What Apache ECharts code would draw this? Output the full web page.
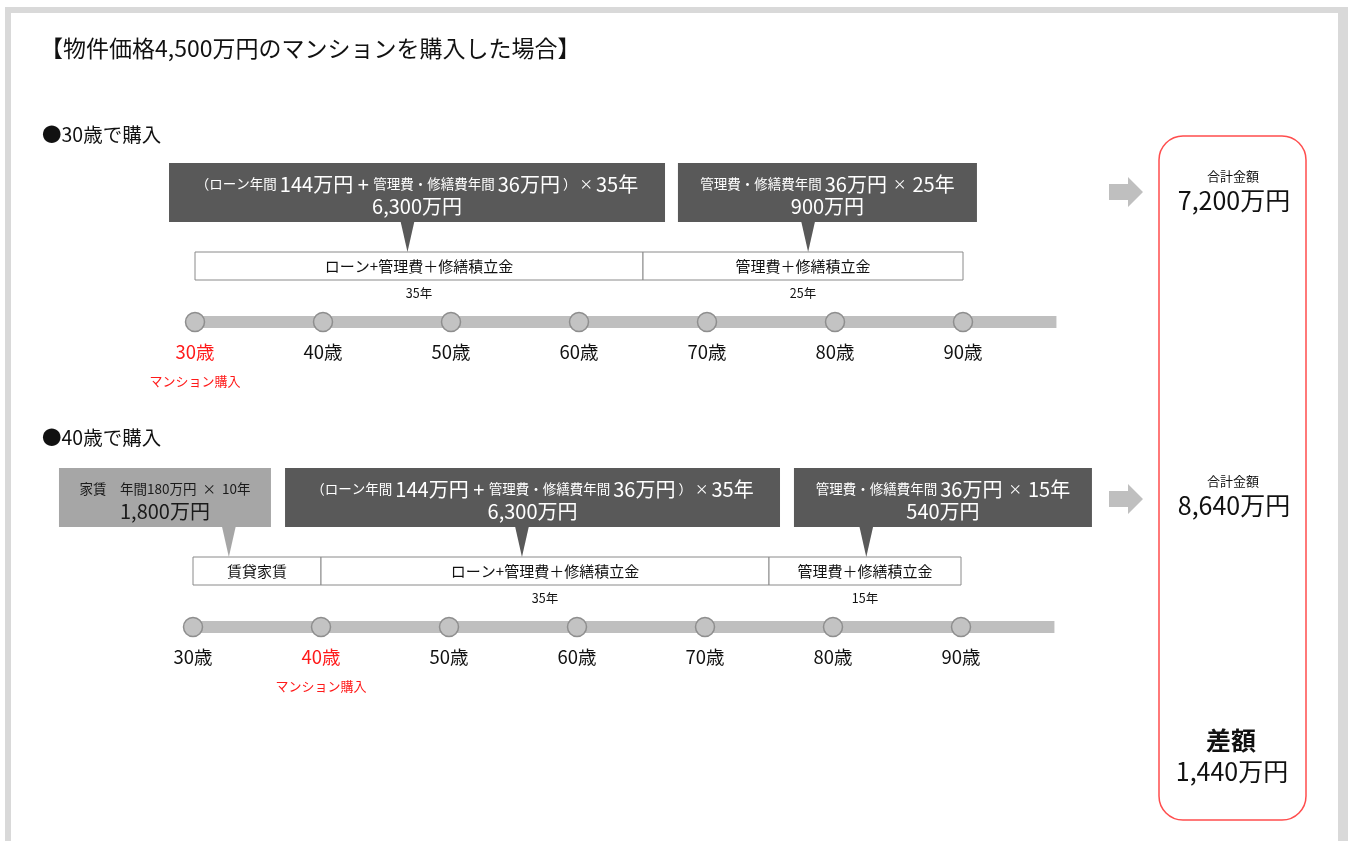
<!DOCTYPE html>
<html><head><meta charset="utf-8">
<script src="https://cdn.jsdelivr.net/npm/echarts@6/dist/echarts.min.js"></script>
<style>html,body{margin:0;padding:0;background:#fff}#c{width:1348px;height:841px}</style>
</head><body><div id="c"></div>
<script>
// ---------- data ----------
const title = '【物件価格4,500万円のマンションを購入した場合】';
const scenarioTitles = ['●30歳で購入', '●40歳で購入'];
const ageTicks = [30, 40, 50, 60, 70, 80, 90];
const purchaseAges = [30, 40];
const purchaseLabel = 'マンション購入';
// segments: [startAge, endAge, label, duration]
const segments1 = [[30, 65, 'ローン+管理費＋修繕積立金', '35年'], [65, 90, '管理費＋修繕積立金', '25年']];
const segments2 = [[30, 40, '賃貸家賃', ''], [40, 75, 'ローン+管理費＋修繕積立金', '35年'], [75, 90, '管理費＋修繕積立金', '15年']];
// callout contents
const callouts1 = [
  {kind: 'loan', loan: 144, mgmt: 36, years: 35, total: 6300},
  {kind: 'mgmt', mgmt: 36, years: 25, total: 900}
];
const callouts2 = [
  {kind: 'rent', rent: 180, years: 10, total: 1800},
  {kind: 'loan', loan: 144, mgmt: 36, years: 35, total: 6300},
  {kind: 'mgmt', mgmt: 36, years: 15, total: 540}
];
const totals = [7200, 8640];
const totalLabel = '合計金額';
const diffLabel = '差額';
const diffValue = 1440;

// ---------- layout (ages on the timeline scale) ----------
const calloutLayout1 = [[27.97, 66.72, 46.6], [67.73, 91.09, 77.9]];
const calloutLayout2 = [[19.53, 36.09, 32.8], [37.19, 75.86, 55.7], [76.95, 100.23, 82.6]];
const T = [322, 627];           // timeline pixel rows
const gridLeft = [195, 193];
const PX_PER_YEAR = 12.8;
const AXIS_MAX = 97.3;

const FONT = '"Noto Sans CJK JP", "Noto Sans", sans-serif';
const DARK = '#595959', LIGHT = '#a6a6a6', RED = '#ff1a1a';
const fmt = n => n.toLocaleString('en-US');

function calloutText(c) {
  if (c.kind === 'loan') {
    return `{s|（ローン年間 }{b|${c.loan}万円}{b| + }{s|管理費・修繕費年間 }{b|${c.mgmt}万円}{s| ） × }{b|${c.years}年}\n{b|${fmt(c.total)}万円}`;
  } else if (c.kind === 'mgmt') {
    return `{s|管理費・修繕費年間 }{b|${c.mgmt}万円}{s|  ×  }{b|${c.years}年}\n{b|${fmt(c.total)}万円}`;
  }
  return `{s|家賃　年間${c.rent}万円  ×  ${c.years}年}\n{b|${fmt(c.total)}万円}`;
}

const chart = echarts.init(document.getElementById('c'), null, {renderer: 'canvas'});

const grids = [], xAxes = [], yAxes = [], series = [];
[0, 1].forEach(i => {
  const width = (AXIS_MAX - 30) * PX_PER_YEAR;
  grids.push({left: gridLeft[i], top: T[i] - 22, width: width, height: 22});
  const pa = purchaseAges[i];
  xAxes.push({
    type: 'value', gridIndex: i, min: 30, max: AXIS_MAX, interval: 10,
    axisLine: {show: false}, axisTick: {show: false}, splitLine: {show: false},
    axisLabel: {
      margin: 20,
      showMaxLabel: false,
      formatter: v => {
        if (ageTicks.indexOf(v) < 0) return '';
        return v === pa ? `{r|${v}歳}\n{rs|${purchaseLabel}}` : `{n|${v}歳}`;
      },
      rich: {
        n: {fontSize: 18.5, lineHeight: 20, color: '#111', fontFamily: FONT},
        r: {fontSize: 18.5, lineHeight: 20, color: RED, fontFamily: FONT},
        rs: {fontSize: 13, lineHeight: 38, color: RED, fontFamily: FONT}
      }
    }
  });
  yAxes.push({type: 'value', gridIndex: i, min: 0, max: 1, show: false});

  // timeline bar
  series.push({
    type: 'line', xAxisIndex: i, yAxisIndex: i, data: [[30, 0], [AXIS_MAX, 0]],
    symbol: 'none', lineStyle: {width: 12, color: '#bfbfbf', cap: 'butt'}, silent: true, z: 1
  });
  // age circles
  series.push({
    type: 'scatter', xAxisIndex: i, yAxisIndex: i, data: ageTicks.map(a => [a, 0]),
    symbolSize: 19, itemStyle: {color: '#c3c3c3', borderColor: '#8e8e8e', borderWidth: 1.5, opacity: 1},
    silent: true, z: 3
  });

  // segment boxes
  const segs = i === 0 ? segments1 : segments2;
  series.push({
    type: 'custom', xAxisIndex: i, yAxisIndex: i, clip: false, silent: true, z: 4,
    data: segs.map(s => [s[0], s[1], 0]),
    encode: {x: [0, 1], y: 2},
    renderItem: (params, api) => {
      const s = segs[params.dataIndex];
      const p0 = api.coord([api.value(0), 0]);
      const p1 = api.coord([api.value(1), 0]);
      const base = p0[1];
      const children = [
        {type: 'rect', shape: {x: p0[0], y: base - 70, width: p1[0] - p0[0], height: 28},
         style: {fill: '#fff', stroke: '#8a8a8a', lineWidth: 1}},
        {type: 'text', style: {x: (p0[0] + p1[0]) / 2, y: base - 56, text: s[2], fill: '#111',
          fontSize: 15, fontFamily: FONT, align: 'center', verticalAlign: 'middle'}}
      ];
      if (s[3]) children.push({type: 'text', style: {x: (p0[0] + p1[0]) / 2, y: base - 29, text: s[3],
        fill: '#111', fontSize: 12.5, fontFamily: FONT, align: 'center', verticalAlign: 'middle'}});
      return {type: 'group', children};
    }
  });

  // callouts
  const cos = i === 0 ? callouts1 : callouts2;
  const lay = i === 0 ? calloutLayout1 : calloutLayout2;
  series.push({
    type: 'custom', xAxisIndex: i, yAxisIndex: i, clip: false, silent: true, z: 5,
    data: lay.map(l => [l[0], l[1], l[2], 0]),
    encode: {x: [0, 1, 2], y: 3},
    renderItem: (params, api) => {
      const c = cos[params.dataIndex];
      const a = api.coord([api.value(0), 0]);
      const b = api.coord([api.value(1), 0]);
      const p = api.coord([api.value(2), 0]);
      const base = a[1];
      const fill = c.kind === 'rent' ? LIGHT : DARK;
      const tc = c.kind === 'rent' ? '#1a1a1a' : '#fff';
      return {type: 'group', children: [
        {type: 'rect', shape: {x: a[0], y: base - 159, width: b[0] - a[0], height: 59}, style: {fill}},
        {type: 'polygon', shape: {points: [[p[0] - 7, base - 101], [p[0] + 7, base - 101], [p[0], base - 70]]}, style: {fill}},
        {type: 'text', style: {
          x: (a[0] + b[0]) / 2, y: base - 127, text: calloutText(c), fill: tc,
          align: 'center', verticalAlign: 'middle', fontFamily: FONT,
          rich: {
            s: {fontSize: 13.5, lineHeight: 22, fill: tc, fontFamily: FONT},
            b: {fontSize: 20, lineHeight: 22, fill: tc, fontFamily: FONT}
          }
        }}
      ]};
    }
  });
});

// ---------- decoration / text ----------
const graphic = [
  {type: 'rect', shape: {x: 5, y: 7, width: 1343, height: 6}, style: {fill: '#d9d9d9'}, z: 0},
  {type: 'rect', shape: {x: 5, y: 7, width: 6, height: 834}, style: {fill: '#d9d9d9'}, z: 0},
  {type: 'rect', shape: {x: 1338, y: 7, width: 10, height: 834}, style: {fill: '#d9d9d9'}, z: 0},
  {type: 'text', x: 40, y: 48, style: {text: title, fontSize: 23, fontFamily: FONT, fill: '#111', verticalAlign: 'middle'}},
  {type: 'text', x: 42, y: 135, style: {text: scenarioTitles[0], fontSize: 19.5, fontFamily: FONT, fill: '#111', verticalAlign: 'middle'}},
  {type: 'text', x: 42, y: 438, style: {text: scenarioTitles[1], fontSize: 19.5, fontFamily: FONT, fill: '#111', verticalAlign: 'middle'}},
  {type: 'rect', shape: {x: 1159, y: 136, width: 147, height: 684, r: 24}, style: {fill: 'none', stroke: '#ff4d4d', lineWidth: 1.5}},
  {type: 'text', x: 1233, y: 176, style: {text: totalLabel, fontSize: 13, fontFamily: FONT, fill: '#111', align: 'center', verticalAlign: 'middle'}},
  {type: 'text', x: 1234, y: 200, style: {text: fmt(totals[0]) + '万円', fontSize: 25, fontFamily: FONT, fill: '#111', align: 'center', verticalAlign: 'middle'}},
  {type: 'text', x: 1233, y: 481, style: {text: totalLabel, fontSize: 13, fontFamily: FONT, fill: '#111', align: 'center', verticalAlign: 'middle'}},
  {type: 'text', x: 1234, y: 505, style: {text: fmt(totals[1]) + '万円', fontSize: 25, fontFamily: FONT, fill: '#111', align: 'center', verticalAlign: 'middle'}},
  {type: 'text', x: 1231, y: 740, style: {text: diffLabel, fontSize: 25, fontWeight: 'bold', fontFamily: FONT, fill: '#111', align: 'center', verticalAlign: 'middle'}},
  {type: 'text', x: 1232, y: 771, style: {text: fmt(diffValue) + '万円', fontSize: 25, fontFamily: FONT, fill: '#111', align: 'center', verticalAlign: 'middle'}}
];
[192, 499].forEach(cy => {
  graphic.push({type: 'polygon', shape: {points: [
    [1109, cy - 8], [1128, cy - 8], [1128, cy - 15], [1143, cy], [1128, cy + 15], [1128, cy + 8], [1109, cy + 8]
  ]}, style: {fill: '#bfbfbf'}});
});

chart.setOption({
  animation: false,
  backgroundColor: '#fff',
  grid: grids, xAxis: xAxes, yAxis: yAxes, series: series,
  graphic: graphic
});
</script>
</body></html>
